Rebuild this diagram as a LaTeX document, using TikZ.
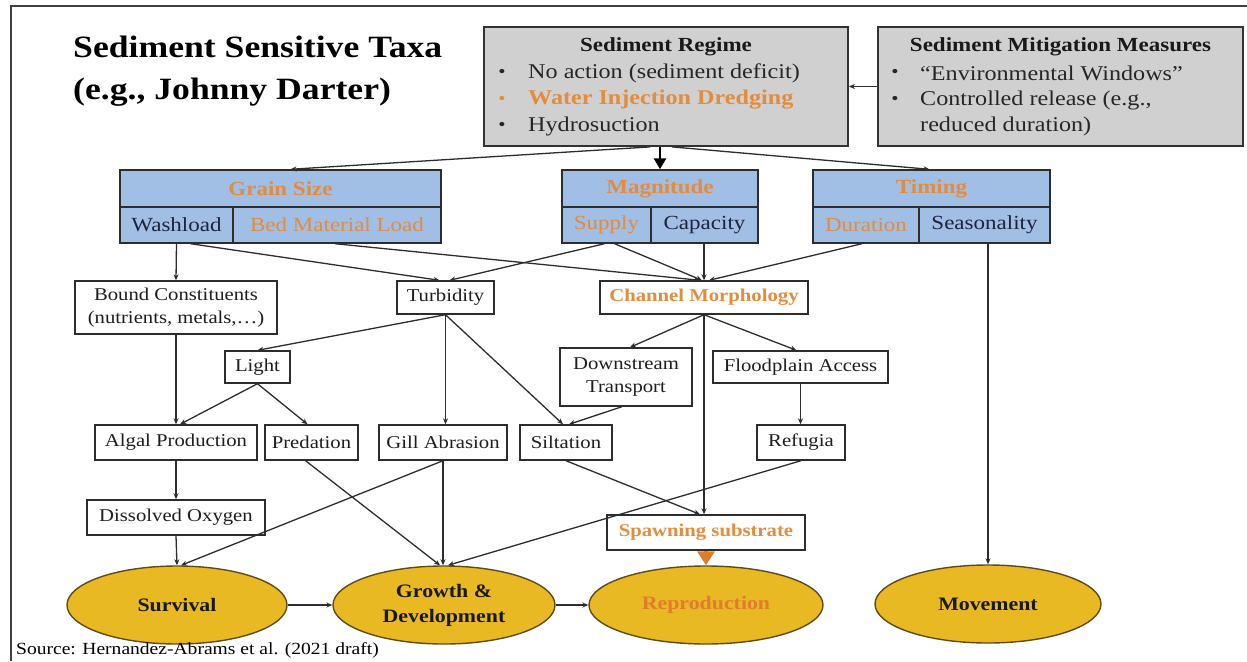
\documentclass[tikz,border=0pt]{standalone}
\usepackage{fontspec}
\setmainfont{Liberation Serif}[FakeStretch=1.15]
\usetikzlibrary{arrows.meta,calc,shapes.geometric}

\definecolor{bluefill}{RGB}{161,190,228}
\definecolor{grayfill}{RGB}{208,208,208}
\definecolor{orangetxt}{RGB}{226,140,62}
\definecolor{deeporange}{RGB}{222,125,45}
\definecolor{navytxt}{RGB}{28,36,62}
\definecolor{goldfill}{RGB}{233,185,35}
\definecolor{goldedge}{RGB}{95,75,25}
\definecolor{linecol}{RGB}{45,45,45}
\definecolor{boxtxt}{RGB}{30,30,30}

\tikzset{
  conn/.style={draw=linecol, line width=1.3pt, -{Stealth[length=6pt,width=5pt]}},
  bigconn/.style={draw=black, line width=2.6pt, -{Triangle[length=11pt,width=12pt]}},
  orangeconn/.style={draw=deeporange, line width=3.6pt, -{Triangle[length=14pt,width=17pt]}},
  plainbox/.style={draw=linecol, line width=1.4pt, fill=white, inner sep=0pt,
    minimum height=35pt, align=center, text=boxtxt, font=\fontsize{18}{23}\selectfont},
  hotbox/.style={plainbox, text=orangetxt, font=\bfseries\fontsize{18}{23}\selectfont},
  bluecell/.style={draw=linecol, line width=1.4pt, fill=bluefill, inner sep=0pt,
    minimum height=36pt, text=navytxt, font=\fontsize{20}{24}\selectfont},
  bluehead/.style={bluecell, minimum height=37pt, text=orangetxt, font=\bfseries\fontsize{20}{24}\selectfont},
  bluehot/.style={bluecell, text=orangetxt},
  greybox/.style={draw=black!80, line width=1.8pt, fill=grayfill, inner sep=0pt,
    minimum height=119pt, minimum width=364pt},
  greyhead/.style={font=\bfseries\fontsize{20}{24}\selectfont, text=black!90, inner sep=0pt},
  greyitem/.style={anchor=west, font=\fontsize{21}{24}\selectfont, text=black!85, inner sep=0pt},
  bulletmark/.style={font=\fontsize{18}{24}\selectfont, text=black!85, inner sep=0pt},
  outcome/.style={ellipse, draw=goldedge, line width=1.4pt, fill=goldfill, inner sep=0pt,
    minimum height=78pt, align=center, text=black!90, font=\bfseries\fontsize{19}{25}\selectfont},
}

\begin{document}
\begin{tikzpicture}[x=1pt,y=-1pt]
\useasboundingbox (0,0) rectangle (1247,661);

% page frame (top and left rules)
\draw[line width=2pt, draw=black!75] (11,661) -- (11,6) -- (1247,6);

% title
\node[anchor=west, align=left, inner sep=0pt, font=\bfseries\fontsize{31}{42}\selectfont] (title) at (73,71)
  {Sediment Sensitive Taxa\\(e.g., Johnny Darter)};

% sediment regime
\node[greybox] (regime) at (666,86.5) {};
\node[greyhead] (regt) at (666,47) {Sediment Regime};
\node[bulletmark] (rb1) at (502,73) {•};
\node[bulletmark, text=orangetxt] (rb2) at (502,100) {•};
\node[bulletmark] (rb3) at (502,126) {•};
\node[greyitem] (ri1) at (528,73) {No action (sediment deficit)};
\node[greyitem, text=orangetxt, font=\bfseries\fontsize{21}{24}\selectfont] (ri2) at (528,100) {Water Injection Dredging};
\node[greyitem] (ri3) at (528,126) {Hydrosuction};

% mitigation measures
\node[greybox, minimum width=365pt] (mitig) at (1060.5,86.5) {};
\node[greyhead] (mitt) at (1060.5,47) {Sediment Mitigation Measures};
\node[bulletmark] (mb1) at (895,73) {•};
\node[bulletmark] (mb2) at (895,100) {•};
\node[greyitem] (mi1) at (920,73) {“Environmental Windows”};
\node[greyitem] (mi2) at (920,100) {Controlled release (e.g.,};
\node[greyitem] (mi3) at (920,126) {reduced duration)};

% sediment characteristics
\node[bluehead, minimum width=321pt] (gsh) at (280.5,188.5) {Grain Size};
\node[bluecell, minimum width=113pt] (wash) at (176.5,225) {Washload};
\node[bluehot, minimum width=208pt] (bed) at (337,225) {Bed Material Load};

\node[bluehead, minimum width=196pt] (magh) at (660,188.5) {Magnitude};
\node[bluehot, minimum width=89pt] (supply) at (606.5,225) {Supply};
\node[bluecell, minimum width=107pt] (cap) at (704.5,225) {Capacity};

\node[bluehead, minimum width=237pt] (timh) at (931.5,188.5) {Timing};
\node[bluehot, minimum width=106pt] (dur) at (866,225) {Duration};
\node[bluecell, minimum width=131pt] (seas) at (984.5,225) {Seasonality};

% intermediate effects
\node[plainbox, minimum width=202pt, minimum height=53pt] (bound) at (176,307.5) {Bound Constituents\\(nutrients, metals,…)};
\node[plainbox, minimum width=97pt, minimum height=33pt] (turb) at (445.5,297.5) {Turbidity};
\node[hotbox, minimum width=208pt, minimum height=33pt] (chan) at (704,297.5) {Channel Morphology};

\node[plainbox, minimum width=65pt, minimum height=32pt] (light) at (257.5,367) {Light};
\node[plainbox, minimum width=132pt, minimum height=58pt] (down) at (626,377) {Downstream\\Transport};
\node[plainbox, minimum width=175pt, minimum height=32pt] (flood) at (800.5,367) {Floodplain Access};

\node[plainbox, minimum width=162pt] (algal) at (176,442.5) {Algal Production};
\node[plainbox, minimum width=93pt] (pred) at (311.5,442.5) {Predation};
\node[plainbox, minimum width=128pt] (gill) at (443,442.5) {Gill Abrasion};
\node[plainbox, minimum width=92pt] (silt) at (566,442.5) {Siltation};
\node[plainbox, minimum width=88pt] (refug) at (801,442.5) {Refugia};

\node[plainbox, minimum width=178pt] (dox) at (176,517.5) {Dissolved Oxygen};
\node[hotbox, minimum width=198pt] (spawn) at (706,532.5) {Spawning substrate};

% outcomes
\node[outcome, minimum width=220pt] (surv) at (177,605) {Survival};
\node[outcome, minimum width=222pt] (growth) at (444,605) {Growth \&\\Development};
\node[outcome, minimum width=234pt, text=deeporange] (repro) at (706,605) {Reproduction};
\node[outcome, minimum width=226pt] (move) at (988,604) {Movement};

% connectors
\draw[conn] (mitig.west) -- (regime.east);
\draw[conn] ($(regime.south)+(-16,0)$) -- ($(gsh.north)+(10,0)$);
\draw[bigconn] (magh.north |- regime.south) -- (magh.north);
\draw[conn] ($(regime.south)+(6,0)$) -- ($(timh.north)+(-2,0)$);

\draw[conn] (wash.south) -- (bound.north);
\draw[conn] ($(wash.south)+(14,0)$) -- ($(turb.north)+(-6,0)$);
\draw[conn] ($(bed.south)+(-2,0)$) -- ($(chan.north)+(-4,0)$);
\draw[conn] ($(supply.south)+(-2,0)$) -- ($(turb.north)+(4,0)$);
\draw[conn] ($(supply.south)+(8,0)$) -- ($(chan.north)+(-2,0)$);
\draw[conn] (chan.north |- cap.south) -- (chan.north);
\draw[conn] ($(dur.south)+(-4,0)$) -- ($(chan.north)+(5,0)$);
\draw[conn] (move.north |- seas.south) -- (move.north);

\draw[conn] (turb.south) -- (light.north);
\draw[conn] (turb.south) -- (turb.south |- gill.north);
\draw[conn] (turb.south) -- ($(silt.north)+(-3,0)$);
\draw[conn] (chan.south) -- ($(down.north)+(4,0)$);
\draw[conn] (chan.south) -- ($(flood.north)+(-4,0)$);
\draw[conn] (chan.south) -- (chan.south |- spawn.north);

\draw[conn] (bound.south) -- (algal.north);
\draw[conn] (light.south) -- ($(algal.north)+(4,0)$);
\draw[conn] (light.south) -- ($(pred.north)+(-4,0)$);
\draw[conn] ($(down.south)+(-4,0)$) -- ($(silt.north)+(3,0)$);
\draw[conn] (flood.south) -- (flood.south |- refug.north);

\draw[conn] (algal.south) -- (dox.north);
\draw[conn] (silt.south) -- ($(spawn.north)+(-6,0)$);
\draw[conn] (refug.south) -- ($(growth.north)+(4,0)$);
\draw[conn] (gill.south) -- ($(surv.north)+(4,0)$);
\draw[conn] (gill.south) -- (gill.south |- growth.north);
\draw[conn] ($(pred.south)+(-6,0)$) -- ($(growth.north)+(-4,0)$);
\draw[conn] (dox.south) -- (surv.north);
\draw[orangeconn] (spawn.south) -- (spawn.south |- repro.north);
\draw[conn] (surv.east) -- (growth.west);
\draw[conn] (growth.east) -- (repro.west);

% source line
\node[anchor=west, inner sep=0pt, font=\fontsize{17}{20}\selectfont] (src) at (16,650)
  {Source: Hernandez-Abrams et al. (2021 draft)};
\end{tikzpicture}
\end{document}
